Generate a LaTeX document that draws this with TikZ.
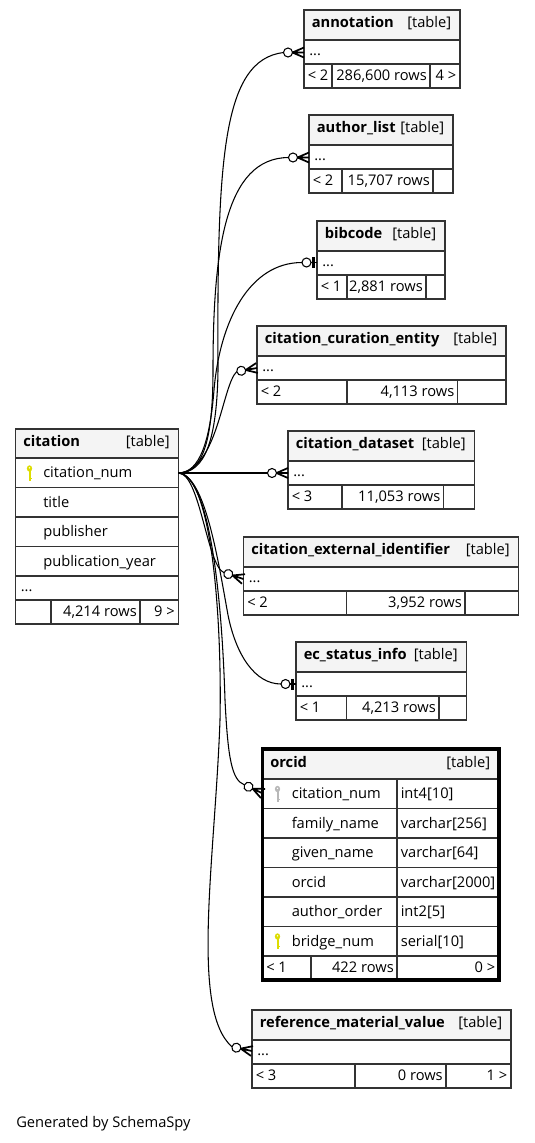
\documentclass[tikz,border=0pt]{standalone}
\usepackage{fontspec}
\setmainfont{Open Sans}
\definecolor{hdrgray}{HTML}{F4F4F4}
\definecolor{bordc}{HTML}{333333}
\definecolor{keyyel}{HTML}{DDDD00}
\definecolor{keygray}{HTML}{B8B8B8}
\tikzset{
  ttl/.style={font=\fontsize{11}{13}\selectfont\bfseries, inner sep=0pt},
  txt/.style={font=\fontsize{11}{13}\selectfont, inner sep=0pt},
  bord/.style={draw=bordc, line width=1pt},
  thickbord/.style={draw=black, line width=2.3pt},
  conn/.style={draw=black, line width=0.8pt},
  crow/.style={draw=black, line width=1.3pt},
  pics/crowodot/.style={code={
    \draw[crow] (-11.5,0) -- (0,-5) (-11.5,0) -- (0,0) (-11.5,0) -- (0,5);
    \draw[conn, fill=white] (-16,0) circle (4.5);
    \coordinate (-end) at (-20.5,0);}},
  pics/teeodot/.style={code={
    \draw[conn] (-6,0) -- (0,0);
    \draw[draw=black, line width=2.2pt] (-3.5,-5.5) -- (-3.5,5.5);
    \draw[conn, fill=white] (-10.5,0) circle (4.5);
    \coordinate (-end) at (-15,0);}},
  pics/tkey/.style={code={
    \fill[#1] (0,-4.5) ellipse (2.6 and 3.2);
    \fill[#1] (-1,-3) rectangle (1,8);
    \fill[#1] (1,5) rectangle (2.2,6.4);
    \fill[white] (0,-5.2) circle (0.8);}},
}
% simple table: name x1 x2 ytop title leftfoot midfoot div1 div2 {rightfoot}
\newcommand\stab[9]{%
  \fill[hdrgray] (#2,#4) rectangle (#3,#4+30);
  \draw[bord] (#2,#4+30) -- (#3,#4+30) (#2,#4+54) -- (#3,#4+54)
    (#8,#4+54) -- (#8,#4+78) (#9,#4+54) -- (#9,#4+78);
  \draw[bord] (#2,#4) rectangle (#3,#4+78);
  \node[ttl, anchor=base west] (#1-title) at (#2+7.5,#4+17.5) {#5};
  \node[txt, anchor=base east] (#1-tag) at (#3-8.5,#4+17.5) {[table]};
  \node[txt, anchor=base west] (#1-more) at (#2+5,#4+45.5) {...};
  \node[txt, anchor=base west] (#1-fl) at (#2+3.5,#4+70) {#6};
  \node[txt, anchor=base east] (#1-fm) at (#9-3,#4+70) {#7};
  \stabright{#1}{#3}{#4}}
\newcommand\stabright[4]{\node[txt, anchor=base east] (#1-fr) at (#2-3.5,#3+70) {#4};}
\begin{document}
\begin{tikzpicture}[x=0.75pt,y=-0.75pt]
\useasboundingbox[fill=white] (0,0) rectangle (535,1143);

% ---------- citation ----------
\fill[hdrgray] (15.5,429) rectangle (178.5,458);
\draw[bord] (15.5,458) -- (178.5,458) (15.5,487.5) -- (178.5,487.5)
  (15.5,517) -- (178.5,517) (15.5,546.5) -- (178.5,546.5)
  (15.5,576) -- (178.5,576) (15.5,600) -- (178.5,600)
  (51,600) -- (51,624) (140,600) -- (140,624);
\draw[bord] (15.5,429) rectangle (178.5,624);
\node[ttl, anchor=base west] (cit-title) at (23,446.5) {citation};
\node[txt, anchor=base east] (cit-tag) at (170,446.5) {[table]};
\pic at (29.5,473) {tkey=keyyel};
\node[txt, anchor=base west] (cit-f1) at (43,477.5) {citation\_num};
\node[txt, anchor=base west] (cit-f2) at (43,507) {title};
\node[txt, anchor=base west] (cit-f3) at (43,536.5) {publisher};
\node[txt, anchor=base west] (cit-f4) at (43,566) {publication\_year};
\node[txt, anchor=base west] (cit-more) at (20.5,591.5) {...};
\node[txt, anchor=base east] (cit-fm) at (137,616) {4,214 rows};
\node[txt, anchor=base east] (cit-fr) at (175,616) {9 >};
\coordinate (src) at (178.5,473);

% ---------- simple tables ----------
\stab{ann}{304}{460}{10}{annotation}{< 2}{286,600 rows}{332}{430}{4 >}
\stab{aut}{309}{453}{115}{author\_list}{< 2}{15,707 rows}{342}{433}{}
\stab{bib}{317}{445}{221}{bibcode}{< 1}{2,881 rows}{347}{426}{}
\stab{cur}{257}{506}{326}{citation\_curation\_entity}{< 2}{4,113 rows}{347}{457.5}{}
\stab{dat}{288}{474.5}{431}{citation\_dataset}{< 3}{11,053 rows}{342}{443.5}{}
\stab{ext}{243.5}{518.5}{537}{citation\_external\_identifier}{< 2}{3,952 rows}{346.5}{465}{}
\stab{ecs}{296}{466.5}{642}{ec\_status\_info}{< 1}{4,213 rows}{346.5}{439}{}
\stab{ref}{252}{511}{1010}{reference\_material\_value}{< 3}{0 rows}{355}{446}{1 >}

% ---------- orcid ----------
\fill[hdrgray] (262.5,749) rectangle (499,779);
\draw[bord] (262.5,779) -- (499,779) (262.5,808.5) -- (499,808.5)
  (262.5,838) -- (499,838) (262.5,867.5) -- (499,867.5)
  (262.5,897) -- (499,897) (262.5,926.5) -- (499,926.5)
  (262.5,956) -- (499,956)
  (397,779) -- (397,980) (311,956) -- (311,980);
\draw[thickbord] (262.5,749) rectangle (499,980);
\node[ttl, anchor=base west] (orc-title) at (270,767.5) {orcid};
\node[txt, anchor=base east] (orc-tag) at (490.5,767.5) {[table]};
\pic at (277.5,793.5) {tkey=keygray};
\pic at (277.5,941) {tkey=keyyel};
\node[txt, anchor=base west] (orc-f1) at (291.5,798.5) {citation\_num};
\node[txt, anchor=base west] (orc-f2) at (291.5,828) {family\_name};
\node[txt, anchor=base west] (orc-f3) at (291.5,857.5) {given\_name};
\node[txt, anchor=base west] (orc-f4) at (291.5,887) {orcid};
\node[txt, anchor=base west] (orc-f5) at (291.5,916.5) {author\_order};
\node[txt, anchor=base west] (orc-f6) at (291.5,946) {bridge\_num};
\node[txt, anchor=base west] (orc-t1) at (400.5,798.5) {int4[10]};
\node[txt, anchor=base west] (orc-t2) at (400.5,828) {varchar[256]};
\node[txt, anchor=base west] (orc-t3) at (400.5,857.5) {varchar[64]};
\node[txt, anchor=base west] (orc-t4) at (400.5,887) {varchar[2000]};
\node[txt, anchor=base west] (orc-t5) at (400.5,916.5) {int2[5]};
\node[txt, anchor=base west] (orc-t6) at (400.5,946) {serial[10]};
\node[txt, anchor=base west] (orc-fl) at (266,972) {< 1};
\node[txt, anchor=base east] (orc-fm) at (394,972) {422 rows};
\node[txt, anchor=base east] (orc-fr) at (495.5,972) {0 >};

% ---------- connector ends ----------
\pic (annA) at (304,52.5) {crowodot};
\pic (autA) at (309,157.5) {crowodot};
\pic (bibA) at (317,262.5) {teeodot};
\pic[rotate=10] (curA) at (257,368) {crowodot};
\pic (datA) at (288,473) {crowodot};
\pic[rotate=-18] (extA) at (243.5,579) {crowodot};
\pic (ecsA) at (296,684) {teeodot};
\pic[rotate=-25] (orcA) at (263,793.5) {crowodot};
\pic[rotate=-12] (refA) at (252,1051) {crowodot};

% ---------- connectors ----------
\draw[conn] (src) .. controls (205,473) and (217,440) .. (218,370)
  .. controls (217,160) and (222,60) .. (annA-end);
\draw[conn] (src) .. controls (203,473) and (213,440) .. (213,370)
  .. controls (213,250) and (225,158) .. (autA-end);
\draw[conn] (src) .. controls (200,473) and (210,440) .. (214,390)
  .. controls (220,320) and (250,262.5) .. (bibA-end);
\draw[conn] (src) .. controls (218,470) and (222,385) .. (curA-end);
\draw[conn] (src) -- (datA-end);
\draw[conn] (src) .. controls (200,473) and (207,566) .. (extA-end);
\draw[conn] (src) .. controls (205,475) and (218,560) .. (228,615)
  .. controls (236,655) and (255,684) .. (ecsA-end);
\draw[conn] (src) .. controls (210,475) and (222,600) .. (225,700)
  .. controls (228,760) and (232,780) .. (orcA-end);
\draw[conn] (src) .. controls (212,475) and (222,620) .. (220,720)
  .. controls (215,860) and (190,1010) .. (refA-end);

\node[txt, anchor=base west] (gen) at (16,1127) {Generated by SchemaSpy};
\end{tikzpicture}
\end{document}
